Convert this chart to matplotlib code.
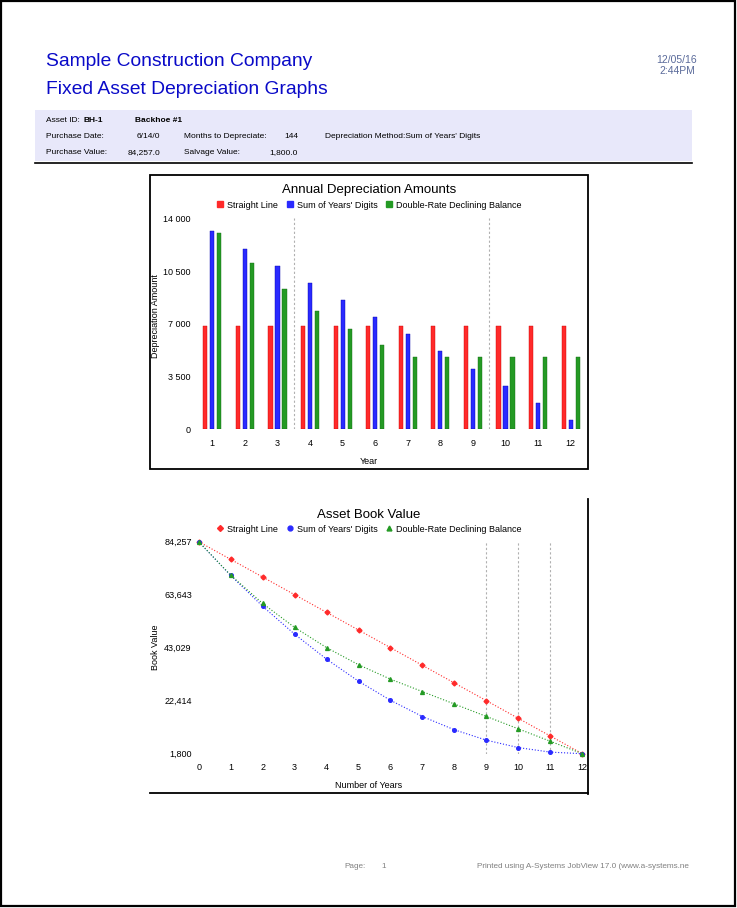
import matplotlib
matplotlib.use("Agg")
import matplotlib.pyplot as plt
from matplotlib.lines import Line2D
from matplotlib.patches import Rectangle
from matplotlib.ticker import FuncFormatter

plt.rcParams["font.family"] = ["Liberation Sans", "DejaVu Sans"]

# --- data -----------------------------------------------------------------
years = list(range(1, 13))
straight_line = [6871] * 12
sum_of_years = [13127, 11989, 10852, 9715, 8577, 7440, 6303, 5165, 4028, 2891, 1753, 616]
double_declining = [13018, 11007, 9306, 7869, 6653, 5625, 4830, 4830, 4830, 4830, 4830, 4830]

book_years = list(range(0, 13))
book_sl = [84257, 77386, 70514, 63643, 56771, 49900, 43029, 36157, 29286, 22414, 15543, 8671, 1800]
book_syd = [84257, 71130, 59141, 48289, 38574, 29997, 22557, 16254, 11089, 7061, 4170, 2417, 1800]
book_ddb = [84257, 71239, 60232, 50926, 43057, 36404, 30779, 25949, 21119, 16289, 11459, 6629, 1800]

bar_ticks = [0, 3500, 7000, 10500, 14000]
book_ticks = [1800, 22414, 43029, 63643, 84257]
series_names = ["Straight Line", "Sum of Years' Digits", "Double-Rate Declining Balance"]

RED, BLUE, GREEN = "#ff2a2a", "#2a2aff", "#249a24"

W, H = 737, 908


def rect(l, t, r, b):
    return [l / W, 1 - b / H, (r - l) / W, (b - t) / H]


def fx(x):
    return x / W


def fy(y):
    return 1 - y / H


fig = plt.figure(figsize=(W / 100, H / 100), dpi=100)

# page border
fig.patches.append(Rectangle((0.001, 0.002), 0.996, 0.997, transform=fig.transFigure,
                             fill=False, edgecolor="black", linewidth=1.6))

# header
fig.text(fx(46), fy(61), "Sample Construction Company", color="#0a0ac8", fontsize=13.9, va="center")
fig.text(fx(46), fy(90), "Fixed Asset Depreciation Graphs", color="#0a0ac8", fontsize=13.9, va="center")
fig.text(fx(697), fy(60), "12/05/16", color="#5a6a9a", fontsize=7.5, ha="right", va="center")
fig.text(fx(695), fy(71), "2:44PM", color="#5a6a9a", fontsize=7.5, ha="right", va="center")

# info band
fig.patches.append(Rectangle((fx(35), fy(161)), (692 - 35) / W, 51 / H, transform=fig.transFigure,
                             facecolor="#e8e8fa", edgecolor="none"))
fig.add_artist(Line2D([fx(35), fx(692)], [fy(163), fy(163)], color="black", linewidth=1.2))
fs = 6.0
fig.text(fx(46), fy(120), "Asset ID:", fontsize=fs, va="center")
fig.text(fx(84), fy(120), "BH-1", fontsize=fs, va="center", fontweight="bold")
fig.text(fx(135), fy(120), "Backhoe #1", fontsize=fs, va="center", fontweight="bold")
fig.text(fx(46), fy(137), "Purchase Date:", fontsize=fs, va="center")
fig.text(fx(160), fy(137), "6/14/0", fontsize=fs, va="center", ha="right")
fig.text(fx(184), fy(137), "Months to Depreciate:", fontsize=fs, va="center")
fig.text(fx(298), fy(137), "144", fontsize=fs, va="center", ha="right")
fig.text(fx(325), fy(137), "Depreciation Method:Sum of Years' Digits", fontsize=fs, va="center")
fig.text(fx(46), fy(153), "Purchase Value:", fontsize=fs, va="center")
fig.text(fx(160), fy(153), "84,257.0", fontsize=fs, va="center", ha="right")
fig.text(fx(184), fy(153), "Salvage Value:", fontsize=fs, va="center")
fig.text(fx(298), fy(153), "1,800.0", fontsize=fs, va="center", ha="right")

# footer
fig.text(fx(344), fy(867), "Page:", fontsize=5.9, color="#808080", va="center")
fig.text(fx(381), fy(867), "1", fontsize=5.9, color="#808080", va="center")
fig.text(fx(477), fy(867), "Printed using A-Systems JobView 17.0 (www.a-systems.ne",
         fontsize=5.9, color="#808080", va="center")

# --- bar chart ------------------------------------------------------------
fig.patches.append(Rectangle((fx(150), fy(469)), 438 / W, 294 / H, transform=fig.transFigure,
                             fill=False, edgecolor="black", linewidth=1.3))
ax1 = fig.add_axes(rect(196, 218.3, 587, 429.3))
off, bw = 0.215, 0.13
x = years
ax1.bar([v - off for v in x], straight_line, width=bw, color=RED, edgecolor="#cc0000", linewidth=0.3)
ax1.bar(x, sum_of_years, width=bw, color=BLUE, edgecolor="#0000aa", linewidth=0.3)
ax1.bar([v + off for v in x], double_declining, width=bw, color=GREEN, edgecolor="#146c14", linewidth=0.3)
for gx in [3.5, 9.5]:
    ax1.axvline(gx, color="#b0b0b0", linestyle=(0, (2, 2)), linewidth=0.8, zorder=0)
ax1.set_xlim(0.5, 12.5)
ax1.set_ylim(0, 14000)
ax1.set_xticks(years)
ax1.set_yticks(bar_ticks)
ax1.yaxis.set_major_formatter(FuncFormatter(lambda v, p: f"{int(v):,}".replace(",", " ")))
ax1.tick_params(length=0, labelsize=6.5, pad=4)
ax1.tick_params(axis="x", pad=7)
for s in ax1.spines.values():
    s.set_visible(False)
fig.text(fx(369), fy(190), "Annual Depreciation Amounts", fontsize=9.5, ha="center", va="center")
fig.text(fx(156), fy(316), "Depreciation Amount", fontsize=6.5, rotation=90, ha="center", va="center")
fig.text(fx(369), fy(462), "Year", fontsize=6.5, ha="center", va="center")
bar_handles = [Line2D([], [], marker="s", linestyle="none", color=c, markersize=5) for c in (RED, BLUE, GREEN)]
fig.legend(bar_handles, series_names, loc="center", bbox_to_anchor=(fx(369), fy(205)), ncol=3,
           frameon=False, fontsize=6.5, handlelength=0.8, handletextpad=0.4, columnspacing=0.9,
           borderpad=0)

# --- book value chart -----------------------------------------------------
fig.add_artist(Line2D([fx(588), fx(588)], [fy(499), fy(794)], color="black", linewidth=1.3))
fig.add_artist(Line2D([fx(150), fx(588)], [fy(793), fy(793)], color="black", linewidth=1.3))
ax2 = fig.add_axes(rect(198.7, 541.7, 582.3, 753.7))
for gx in [9, 10, 11]:
    ax2.axvline(gx, color="#b0b0b0", linestyle=(0, (2, 2)), linewidth=0.8, zorder=0)
ax2.plot(book_years, book_sl, linestyle=":", linewidth=0.8, color=RED, marker="D", markersize=2.5,
         clip_on=False)
ax2.plot(book_years, book_syd, linestyle=":", linewidth=0.8, color=BLUE, marker="o", markersize=2.6,
         clip_on=False)
ax2.plot(book_years, book_ddb, linestyle=":", linewidth=0.8, color=GREEN, marker="^", markersize=2.8,
         clip_on=False)
ax2.set_xlim(0, 12)
ax2.set_ylim(book_ticks[0], book_ticks[-1])
ax2.set_xticks(book_years)
ax2.set_yticks(book_ticks)
ax2.yaxis.set_major_formatter(FuncFormatter(lambda v, p: f"{int(round(v)):,}"))
ax2.tick_params(length=0, labelsize=6.5, pad=5)
ax2.tick_params(axis="x", pad=7)
for s in ax2.spines.values():
    s.set_visible(False)
fig.text(fx(369), fy(515), "Asset Book Value", fontsize=9.5, ha="center", va="center")
fig.text(fx(156), fy(647), "Book Value", fontsize=6.5, rotation=90, ha="center", va="center")
fig.text(fx(369), fy(786), "Number of Years", fontsize=6.5, ha="center", va="center")
line_handles = [
    Line2D([], [], marker="D", linestyle="none", color=RED, markersize=3),
    Line2D([], [], marker="o", linestyle="none", color=BLUE, markersize=3.5),
    Line2D([], [], marker="^", linestyle="none", color=GREEN, markersize=3.5),
]
fig.legend(line_handles, series_names, loc="center", bbox_to_anchor=(fx(369), fy(529)), ncol=3,
           frameon=False, fontsize=6.5, handlelength=0.8, handletextpad=0.4, columnspacing=0.9,
           borderpad=0)

fig.savefig("out.png", dpi=100)
